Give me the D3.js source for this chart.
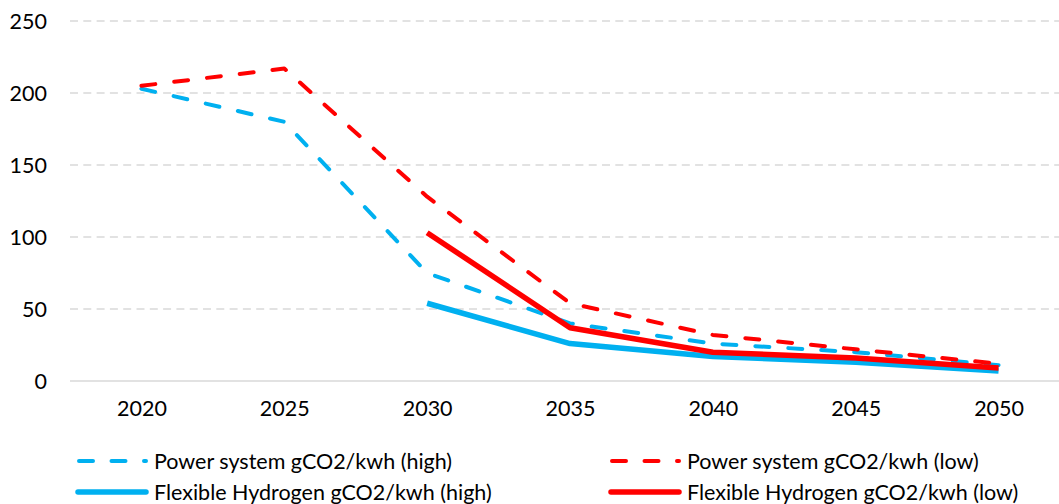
<!DOCTYPE html>
<html>
<head>
<meta charset="utf-8">
<script src="https://cdn.jsdelivr.net/npm/d3@7"></script>
<style>
  html, body { margin: 0; padding: 0; background: #ffffff; }
  svg { display: block; }
  text { font-family: Lato, "Open Sans", sans-serif; fill: #000; }
</style>
</head>
<body>
<svg id="chart" width="1059" height="504"></svg>
<script>
const years = ["2020", "2025", "2030", "2035", "2040", "2045", "2050"];
const yTicks = [0, 50, 100, 150, 200, 250];

const powerHigh = [203, 180, 75, 40, 26, 20, 11];
const powerLow = [205, 217, 128, 54, 32, 22, 12];
const hydrogenHigh = [null, null, 54, 26, 17, 13, 7];
const hydrogenLow = [null, null, 103, 37, 20, 16, 9];

const seriesNames = [
  "Power system gCO2/kwh (high)",
  "Power system gCO2/kwh (low)",
  "Flexible Hydrogen gCO2/kwh (high)",
  "Flexible Hydrogen gCO2/kwh (low)"
];

const blue = "#00b0f0";
const red = "#ff0000";

const series = [
  { name: seriesNames[0], values: powerHigh, color: blue, dashed: true },
  { name: seriesNames[1], values: powerLow, color: red, dashed: true },
  { name: seriesNames[2], values: hydrogenHigh, color: blue, dashed: false },
  { name: seriesNames[3], values: hydrogenLow, color: red, dashed: false }
];

const svg = d3.select("#chart");
const W = 1059;
const plotLeft = 70, plotRight = 1070, plotTop = 21, plotBottom = 381;

const x = d3.scalePoint().domain(years).range([plotLeft, plotRight]).padding(0.5);
const y = d3.scaleLinear().domain([0, 250]).range([plotBottom, plotTop]);

// gridlines
svg.append("g").selectAll("line")
  .data(yTicks.filter(d => d > 0))
  .join("line")
  .attr("x1", plotLeft).attr("x2", W)
  .attr("y1", d => y(d)).attr("y2", d => y(d))
  .attr("stroke", "#d9d9d9")
  .attr("stroke-width", 1.4)
  .attr("stroke-dasharray", "8,5.3");

// baseline
svg.append("line")
  .attr("x1", plotLeft).attr("x2", W)
  .attr("y1", y(0)).attr("y2", y(0))
  .attr("stroke", "#d9d9d9")
  .attr("stroke-width", 1.6);

// y axis labels
const yAxis = d3.axisLeft(y).tickValues(yTicks).tickSize(0).tickPadding(0).tickFormat(d3.format("d"));
const gy = svg.append("g").attr("transform", `translate(${47},0)`).call(yAxis);
gy.select(".domain").remove();
gy.selectAll("text").style("font-size", "21.5px").style("font-family", "Lato, sans-serif").attr("fill", "#000").attr("dy", "0.36em");

// x axis labels
const xAxis = d3.axisBottom(x).tickSize(0).tickPadding(0);
const gx = svg.append("g").attr("transform", `translate(0,${403})`).call(xAxis);
gx.select(".domain").remove();
gx.selectAll("text").style("font-size", "21.5px").style("font-family", "Lato, sans-serif").attr("fill", "#000").attr("dy", "0.6em");

// lines
const lineGen = d3.line()
  .defined(d => d.v != null)
  .x(d => x(d.year))
  .y(d => y(d.v));

series.forEach(s => {
  const pts = s.values.map((v, i) => ({ year: years[i], v }));
  svg.append("path")
    .datum(pts)
    .attr("d", lineGen)
    .attr("fill", "none")
    .attr("stroke", s.color)
    .attr("stroke-width", s.dashed ? 4 : 5.5)
    .attr("stroke-linecap", s.dashed ? "round" : "butt")
    .attr("stroke-linejoin", "round")
    .attr("stroke-dasharray", s.dashed ? "14,19" : null);
});

// legend
const legendPos = [
  { x: 77, y: 461 },
  { x: 610, y: 461 },
  { x: 77, y: 492 },
  { x: 610, y: 492 }
];
series.forEach((s, k) => {
  const p = legendPos[k];
  const g = svg.append("g").attr("transform", `translate(${p.x},${p.y})`);
  if (s.dashed) {
    g.append("line").attr("x1", 2).attr("x2", 69).attr("y1", 0).attr("y2", 0)
      .attr("stroke", s.color).attr("stroke-width", 4).attr("stroke-linecap", "round")
      .attr("stroke-dasharray", "14,18.5");
  } else {
    g.append("line").attr("x1", 1).attr("x2", 69).attr("y1", 0).attr("y2", 0)
      .attr("stroke", s.color).attr("stroke-width", 5.5).attr("stroke-linecap", "round");
  }
  g.append("text")
    .attr("x", 77)
    .attr("y", 0)
    .attr("dy", "0.36em")
    .style("font-size", "21.5px")
    .text(s.name);
});
</script>
</body>
</html>
